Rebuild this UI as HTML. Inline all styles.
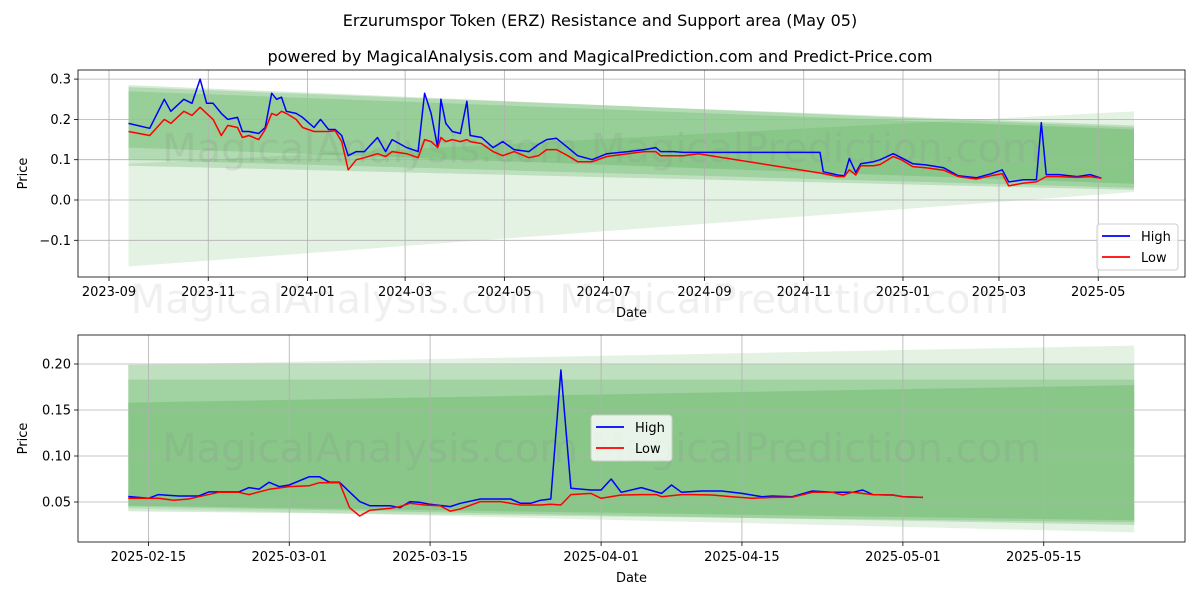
<!DOCTYPE html>
<html><head><meta charset="utf-8"><title>ERZ Resistance and Support</title>
<style>
html,body{margin:0;padding:0;background:#fff;}
svg{display:block;font-family:"DejaVu Sans","Liberation Sans",sans-serif;}
</style></head>
<body>
<svg id="chart" width="1200" height="600" viewBox="0 0 1200 600" xmlns="http://www.w3.org/2000/svg">
<rect x="0" y="0" width="1200" height="600" fill="#fff"/>
<text x="600" y="26" text-anchor="middle" font-size="16" fill="#000">Erzurumspor Token (ERZ) Resistance and Support area (May 05)</text>
<text x="600" y="62" text-anchor="middle" font-size="16" fill="#000">powered by MagicalAnalysis.com and MagicalPrediction.com and Predict-Price.com</text>
<g id="top"></g>
<g id="bot"></g>
</svg>
<script>
// ---------- TOP CHART DATA (day offsets from 2023-09-01) ----------
const topHighDays = [12,25,34,38,46,51,56,60,64,69,73,79,82,86,92,96,100,103,106,109,115,119,126,130,135,139,143,147,152,157,165,170,174,183,190,194,198,202,204,207,211,216,220,222,229,236,242,249,258,264,269,275,282,288,297,306,319,329,336,339,347,353,362,437,439,448,452,455,459,462,470,474,482,487,494,502,513,522,533,542,549,553,562,570,573,576,584,595,603,610];
const topHighVals = [.19,.178,.25,.22,.25,.24,.30,.24,.24,.215,.2,.205,.17,.17,.165,.18,.265,.25,.255,.22,.215,.205,.18,.2,.175,.175,.16,.11,.12,.12,.155,.12,.15,.13,.12,.265,.215,.13,.25,.19,.17,.165,.245,.16,.155,.13,.145,.125,.12,.138,.15,.153,.13,.11,.1,.115,.12,.125,.13,.12,.12,.118,.118,.118,.07,.062,.06,.103,.068,.09,.095,.1,.115,.105,.09,.087,.08,.06,.055,.065,.075,.045,.05,.05,.192,.063,.063,.058,.063,.054];
const topLowDays = [12,25,34,38,46,51,56,60,64,69,73,79,82,86,92,96,100,103,106,109,115,119,126,130,135,139,143,147,152,157,165,170,174,183,190,194,198,202,204,207,211,216,220,222,229,236,242,249,258,264,269,275,282,288,297,306,319,329,336,339,347,353,362,437,448,452,455,459,462,470,474,482,487,494,502,513,522,533,542,549,553,562,570,576,584,595,603,610];
const topLowVals = [.17,.16,.2,.19,.22,.21,.23,.215,.2,.16,.185,.18,.155,.16,.15,.175,.215,.21,.22,.215,.2,.18,.17,.17,.17,.172,.145,.075,.1,.105,.115,.108,.12,.115,.105,.15,.145,.13,.155,.145,.15,.145,.15,.145,.14,.12,.11,.12,.105,.11,.125,.125,.11,.095,.095,.108,.115,.12,.12,.11,.11,.11,.115,.067,.058,.058,.075,.062,.085,.085,.088,.108,.1,.083,.08,.074,.058,.052,.06,.065,.035,.042,.045,.058,.058,.056,.058,.054];
const topBandStartDay = 12, topBandEndDay = 630;
const topBandTopStart = [.09,.28,.285,.27];
const topBandTopEnd   = [.22,.185,.18,.175];
const topBandBotStart = [-.165,.10,.085,.13];
const topBandBotEnd   = [.02,.03,.025,.04];
const topTickDays = [0,61,122,182,243,304,366,427,488,547,608];
const topTickLabels = ["2023-09","2023-11","2024-01","2024-03","2024-05","2024-07","2024-09","2024-11","2025-01","2025-03","2025-05"];
const topYTicks = [-0.1,0,0.1,0.2,0.3];
const topYLabels = ["\u22120.1","0.0","0.1","0.2","0.3"];

// ---------- BOTTOM CHART DATA (day offsets from 2025-02-15) ----------
const botHighDays = [-2,0,1,3,5,6,9,10,11,12,13,14,16,17,18,19,21,22,24,25,26,27,28,30,31,33,36,37,38,39,40,41,42,44,45,46,47,49,51,52,53,55,57,59,61,62,64,66,68,70,71,72,74,75,77];
const botHighVals = [.056,.054,.058,.0565,.0565,.061,.061,.0656,.064,.0714,.0667,.0685,.0775,.0775,.0714,.0714,.0504,.046,.046,.0438,.0504,.0496,.0475,.045,.0486,.0533,.0533,.0486,.0486,.052,.0533,.1935,.0649,.063,.063,.075,.0605,.0656,.0594,.0685,.0605,.062,.062,.0594,.0558,.0565,.0558,.062,.0605,.0605,.063,.058,.0576,.0558,.055];
const botLowDays = [-2,0,1,2.5,4,5,7,9,10,12,14,16,17,19,20,21,22,24,25,26,27.5,29,30,31,33,35,37,39,40,41,42,44,45,47,49,50.5,51,53,54,56,58,60,62,64,66,68,69,70,72,74,75,77];
const botLowVals = [.054,.054,.054,.0518,.0533,.0558,.0605,.0605,.058,.0638,.0667,.0677,.071,.071,.0438,.0348,.041,.043,.045,.0486,.0467,.046,.040,.0424,.0504,.0504,.0467,.0467,.0475,.0467,.058,.0594,.054,.0576,.058,.058,.0558,.058,.058,.0576,.0558,.054,.055,.0551,.0605,.0605,.0576,.0605,.058,.0576,.0558,.055];
const botBandStartDay = -2, botBandEndDay = 98;
const botBandTopStart = [.199,.199,.183,.158];
const botBandTopEnd   = [.22,.20,.183,.177];
const botBandBotStart = [.043,.040,.045,.046];
const botBandBotEnd   = [.017,.028,.025,.03];
const botTickDays = [0,14,28,45,59,75,89];
const botTickLabels = ["2025-02-15","2025-03-01","2025-03-15","2025-04-01","2025-04-15","2025-05-01","2025-05-15"];
const botYTicks = [0.05,0.10,0.15,0.20];
const botYLabels = ["0.05","0.10","0.15","0.20"];

const NS = "http://www.w3.org/2000/svg";
function mk(parent, tag, attrs, text){
  const e = document.createElementNS(NS, tag);
  for (const k in attrs) e.setAttribute(k, attrs[k]);
  if (text !== undefined) e.textContent = text;
  parent.appendChild(e);
  return e;
}

function drawPanel(g, cfg){
  const {L,R,T,B,xs,ys} = cfg;
  for (let i=0;i<cfg.bandTopStart.length;i++){
    const x0=xs(cfg.bandStart), x1=xs(cfg.bandEnd);
    const pts=[[x0,ys(cfg.bandTopStart[i])],[x1,ys(cfg.bandTopEnd[i])],[x1,ys(cfg.bandBotEnd[i])],[x0,ys(cfg.bandBotStart[i])]];
    const p = mk(g,'polygon',{points:pts.map(p=>p.join(',')).join(' '),fill:'#2e9a2e','fill-opacity':i===0?0.13:0.2});
    
    
  }
  cfg.xTicks.forEach((d,i)=>{
    const x=xs(d);
    const l=mk(g,'line',{x1:x,x2:x,y1:T,y2:B,stroke:'#b0b0b0','stroke-width':0.8});
    
    
    const tk=mk(g,'line',{x1:x,x2:x,y1:B,y2:B+4,stroke:'#000','stroke-width':0.8});
    
    
    const t=mk(g,'text',{x:x,y:B+19,'text-anchor':'middle','font-size':13,fill:'#000'},cfg.xLabels[i]);
    
    
  });
  cfg.yTicks.forEach((v,i)=>{
    const y=ys(v);
    const l=mk(g,'line',{x1:L,x2:R,y1:y,y2:y,stroke:'#b0b0b0','stroke-width':0.8});
    
    
    const tk=mk(g,'line',{x1:L-4,x2:L,y1:y,y2:y,stroke:'#000','stroke-width':0.8});
    
    
    const t=mk(g,'text',{x:L-7,y:y+4.5,'text-anchor':'end','font-size':13,fill:'#000'},cfg.yLabels[i]);
    
    
  });
  const wm=mk(g,'text',{x:(L+R)/2-30,y:cfg.wmY,'text-anchor':'middle','font-size':40,fill:'#808080','fill-opacity':0.16},'MagicalAnalysis.com    MagicalPrediction.com');
  
  
  const lineOf=(days,vals)=>days.map((d,i)=>xs(d).toFixed(1)+','+ys(vals[i]).toFixed(1)).join(' ');
  const hl=mk(g,'polyline',{points:lineOf(cfg.hd,cfg.hv),fill:'none',stroke:'#0000ff','stroke-width':1.5,'stroke-linejoin':'round'});
  
  
  const ll=mk(g,'polyline',{points:lineOf(cfg.ld,cfg.lv),fill:'none',stroke:'#ff0000','stroke-width':1.5,'stroke-linejoin':'round'});
  
  
  const fr=mk(g,'rect',{x:L,y:T,width:R-L,height:B-T,fill:'none',stroke:'#000','stroke-width':0.8});
  
  
  const xt=mk(g,'text',{x:(L+R)/2,y:B+40,'text-anchor':'middle','font-size':13,fill:'#000'},'Date');
  
  
  const yc=(T+B)/2;
  const yt=mk(g,'text',{x:27,y:yc,'text-anchor':'middle','font-size':13,fill:'#000',transform:'rotate(-90 27 '+yc+')'},'Price');
  
  
  const lg=mk(g,'g',{});
  
  
  const lx=cfg.legX, ly=cfg.legY;
  mk(lg,'rect',{x:lx,y:ly,width:81,height:46,rx:3,fill:'#fff','fill-opacity':0.8,stroke:'#ccc','stroke-width':1});
  mk(lg,'line',{x1:lx+5,x2:lx+33,y1:ly+12,y2:ly+12,stroke:'#0000ff','stroke-width':1.8});
  const t1=mk(lg,'text',{x:lx+44,y:ly+17,'font-size':13,fill:'#000'},'High');
  
  
  mk(lg,'line',{x1:lx+5,x2:lx+33,y1:ly+33,y2:ly+33,stroke:'#ff0000','stroke-width':1.8});
  const t2=mk(lg,'text',{x:lx+44,y:ly+38,'font-size':13,fill:'#000'},'Low');
  
  
}

drawPanel(document.getElementById('top'),{
  L:78,R:1185,T:70,B:277,
  xs:d=>109+1.627*d, ys:v=>200-403*v,
  hd:topHighDays,hv:topHighVals,ld:topLowDays,lv:topLowVals,
  bandStart:topBandStartDay,bandEnd:topBandEndDay,
  bandTopStart:topBandTopStart,bandTopEnd:topBandTopEnd,bandBotStart:topBandBotStart,bandBotEnd:topBandBotEnd,
  xTicks:topTickDays,xLabels:topTickLabels,yTicks:topYTicks,yLabels:topYLabels,
  wmY:162,legX:1097,legY:224
});
drawPanel(document.getElementById('bot'),{
  L:78,R:1185,T:335,B:542,
  xs:d=>148.4+10.06*d, ys:v=>548-920*v,
  hd:botHighDays,hv:botHighVals,ld:botLowDays,lv:botLowVals,
  bandStart:botBandStartDay,bandEnd:botBandEndDay,
  bandTopStart:botBandTopStart,bandTopEnd:botBandTopEnd,bandBotStart:botBandBotStart,bandBotEnd:botBandBotEnd,
  xTicks:botTickDays,xLabels:botTickLabels,yTicks:botYTicks,yLabels:botYLabels,
  wmY:462,legX:591,legY:415
});
const svg=document.getElementById('chart');
const mid=document.createElementNS(NS,'text');
mid.setAttribute('x','570');mid.setAttribute('y','313');mid.setAttribute('text-anchor','middle');
mid.setAttribute('font-size','40');mid.setAttribute('fill','#808080');mid.setAttribute('fill-opacity','0.12');
mid.textContent='MagicalAnalysis.com    MagicalPrediction.com';


svg.appendChild(mid);
</script>
</body></html>
